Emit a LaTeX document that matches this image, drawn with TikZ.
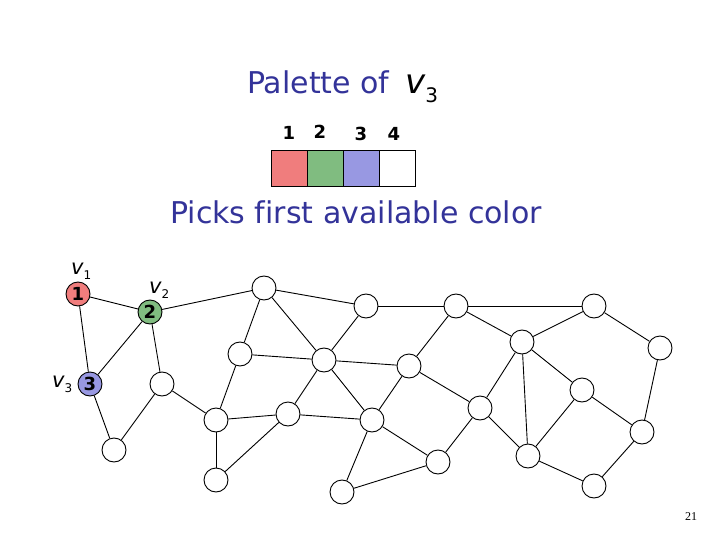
\documentclass[tikz,border=0pt]{standalone}
\usepackage{fontspec}
\setmainfont{DejaVu Sans}
\newfontfamily\pagefont{Liberation Serif}
\definecolor{txtblue}{RGB}{51,51,153}
\definecolor{cred}{RGB}{240,125,125}
\definecolor{cgreen}{RGB}{128,188,128}
\definecolor{cblue}{RGB}{152,152,226}
\tikzset{
  vtx/.style={circle,draw=black,line width=0.9pt,minimum size=24pt,inner sep=0pt,fill=white,font=\bfseries\fontsize{18}{18}\selectfont},
  edge/.style={line width=0.9pt},
  pal/.style={draw=black,line width=0.9pt,minimum width=36pt,minimum height=36pt,inner sep=0pt},
  num/.style={font=\bfseries\fontsize{18}{18}\selectfont,inner sep=0pt,anchor=base},
  vlab/.style={font=\itshape\fontsize{21}{21}\selectfont,inner sep=0pt,anchor=base west},
  big/.style={text=txtblue,inner sep=0pt,anchor=base west,font=\fontsize{30}{30}\selectfont}
}
\newcommand{\vsub}[2]{v\raisebox{-5pt}{\upshape\fontsize{#1}{#1}\selectfont #2}}
\begin{document}
\begin{tikzpicture}[x=1pt,y=-1pt]
\useasboundingbox (0,0) rectangle (720,540);
% title
\node[big] (title) at (247,94) {Palette of};
\node[inner sep=0pt,anchor=base west,font=\itshape\fontsize{34}{34}\selectfont] (tv) at (405,94) {v\raisebox{-9pt}{\upshape\fontsize{20}{20}\selectfont 3}};
% palette
\node[pal,fill=cred] (p1) at (289,168) {};
\node[pal,fill=cgreen] (p2) at (325,168) {};
\node[pal,fill=cblue] (p3) at (361,168) {};
\node[pal,fill=white] (p4) at (397,168) {};
\node[num] (n1) at (289,140) {1};
\node[num] (n2) at (320,139) {2};
\node[num] (n3) at (361,141) {3};
\node[num] (n4) at (394,141) {4};
\node[big] (picks) at (170,224) {Picks f\kern0pt irst available color};
% vertices
\node[vtx,fill=cred] (v1) at (78,294) {1};
\node[vtx,fill=cgreen] (v2) at (150,312) {2};
\node[vtx,fill=cblue] (v3) at (90,384) {3};
\node[vlab] (l1) at (71,274) {\vsub{12}{1}};
\node[vlab] (l2) at (149,293) {\vsub{12}{2}};
\node[vlab] (l3) at (52,387) {\vsub{12}{3}};
\node[vtx] (a) at (162,384) {};
\node[vtx] (b) at (114,450) {};
\node[vtx] (c) at (264,288) {};
\node[vtx] (d) at (240,354) {};
\node[vtx] (e) at (216,420) {};
\node[vtx] (f) at (288,414) {};
\node[vtx] (g) at (216,480) {};
\node[vtx] (h) at (324,360) {};
\node[vtx] (i) at (366,306) {};
\node[vtx] (j) at (372,420) {};
\node[vtx] (k) at (438,462) {};
\node[vtx] (l) at (342,492) {};
\node[vtx] (m) at (409,366) {};
\node[vtx] (n) at (456,306) {};
\node[vtx] (o) at (522,342) {};
\node[vtx] (p) at (480,408) {};
\node[vtx] (q) at (528,456) {};
\node[vtx] (r) at (594,306) {};
\node[vtx] (s) at (660,348) {};
\node[vtx] (t) at (582,390) {};
\node[vtx] (u) at (642,432) {};
\node[vtx] (w) at (594,486) {};
% edges
\foreach \x/\y in {v1/v2,v1/v3,v2/v3,v2/a,v2/c,v3/b,a/b,a/e,c/d,c/h,c/i,d/h,d/e,h/i,h/f,h/j,h/m,e/f,e/g,f/g,f/j,j/m,j/k,j/l,l/k,i/n,n/m,n/o,n/r,m/p,o/r,o/p,o/q,o/t,p/k,p/q,t/q,t/u,r/s,s/u,u/w,q/w}
  \draw[edge] (\x) -- (\y);
% page number
\node[inner sep=0pt,font=\pagefont\fontsize{12}{12}\selectfont] (pg) at (691,517) {21};
\end{tikzpicture}
\end{document}
